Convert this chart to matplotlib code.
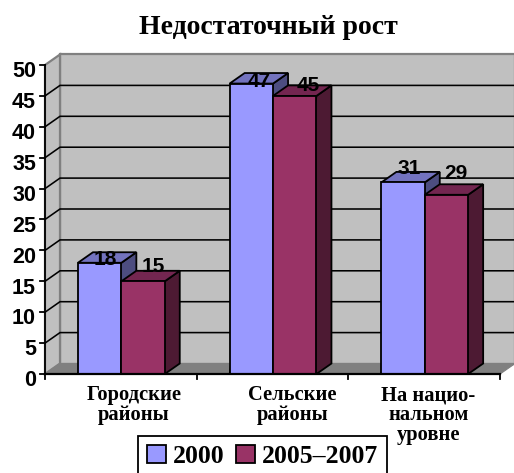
import matplotlib
matplotlib.use("Agg")
import matplotlib.pyplot as plt
from matplotlib.patches import Polygon, Patch
import numpy as np

title = "Недостаточный рост"
categories = ["Городские\nрайоны", "Сельские\nрайоны", "На нацио-\nнальном\nуровне"]
series_names = ["2000", "2005–2007"]
values_2000 = [18, 47, 31]
values_2005 = [15, 45, 29]
y_ticks = [0, 5, 10, 15, 20, 25, 30, 35, 40, 45, 50]

W, H = 514, 473
X0, CAT = 45.0, 151.7      # pixel of category 0, pixels per category
Y0, UNIT = 374.0, 6.18     # pixel of value 0, pixels per value
DX, DY = 15.0 / CAT, 10.5 / UNIT   # 3-D depth in data units
BAR = 43.4 / CAT

fig = plt.figure(figsize=(W / 100, H / 100), dpi=100)
ax = fig.add_axes([0, 0, 1, 1])
ax.set_xlim(-X0 / CAT, (W - X0) / CAT)
ax.set_ylim((Y0 - H) / UNIT, Y0 / UNIT)
ax.axis("off")
px = 1 / CAT
pu = 1 / UNIT
SANS = "Liberation Sans"
SERIF = "Liberation Serif"
ncat = len(categories)
YMAX = y_ticks[-1]

def poly(pts, fc, ec="black", lw=1.3, z=2):
    ax.add_patch(Polygon(pts, closed=True, facecolor=fc, edgecolor=ec, linewidth=lw, zorder=z, joinstyle="miter"))

# walls and floor
poly([(DX, DY), (ncat + DX, DY), (ncat + DX, YMAX + DY), (DX, YMAX + DY)], "#C0C0C0", "#808080", 1.6, 1)
poly([(0, 0), (DX, DY), (DX, YMAX + DY), (0, YMAX)], "#C0C0C0", "#808080", 1.6, 1)
poly([(0, 0), (ncat, 0), (ncat + DX, DY), (DX, DY)], "#808080", "#808080", 0.8, 1.2)

# gridlines
for t in y_ticks[1:-1]:
    ax.plot([0, DX, ncat + DX], [t, t + DY, t + DY], color="black", lw=1.15, zorder=1.5, solid_joinstyle="miter")

# bars
def bar3d(x, v, front, top, side, z):
    poly([(x, 0), (x + BAR, 0), (x + BAR + DX, DY), (x + BAR + DX, v + DY), (x + BAR, v)], side, z=z)
    poly([(x, v), (x + BAR, v), (x + BAR + DX, v + DY), (x + DX, v + DY)], top, z=z)
    poly([(x, 0), (x + BAR, 0), (x + BAR, v), (x, v)], front, z=z)

bar_shift = 0.5 * px
for i in range(ncat):
    c = i + 0.5 + bar_shift
    bar3d(c - BAR, values_2000[i], "#9999FF", "#7373BF", "#4D4D80", 3 + i)
    bar3d(c, values_2005[i], "#993366", "#732650", "#4D1A33", 3.5 + i)

# axes lines and ticks
ax.plot([0, 0], [0, YMAX], color="black", lw=1.3, zorder=8)
ax.plot([0, ncat], [0, 0], color="black", lw=1.6, zorder=8)
for t in y_ticks:
    ax.plot([-5 * px, 0], [t, t], color="black", lw=1.3, zorder=8)
    ax.text(-9 * px, t - 1.1, str(t), ha="right", va="center", family=SANS, fontweight="bold", fontsize=15.5, zorder=9)
for i in range(ncat + 1):
    ax.plot([i, i], [0, -5 * pu], color="black", lw=1.3, zorder=8)

# data labels (offsets from the bar front top centre, in pixels)
label_off = [[(6, 3), (11, 15)], [(8, 2), (14, 10)], [(7, 14), (10, 21)]]
for i in range(ncat):
    c = i + 0.5
    for j, vals in enumerate([values_2000, values_2005]):
        ox, oy = label_off[i][j]
        xc = c - BAR / 2 + j * BAR + ox * px
        ax.text(xc, vals[i] + oy * pu, str(vals[i]), ha="center", va="center",
                family=SANS, fontweight="bold", fontsize=15, zorder=10)

# category labels (horizontal offsets from the category centre, in pixels)
cat_off = [13, 20, 4]
for i, lab in enumerate(categories):
    ax.text(i + 0.5 + cat_off[i] * px, -(385 - Y0) * pu, lab, ha="center", va="top", family=SERIF,
            fontweight="bold", fontsize=14.8, linespacing=1.0, zorder=9)

ax.text((268 - X0) / CAT, (Y0 - 28) * pu, title, ha="center", va="center", family=SERIF,
        fontweight="bold", fontsize=20)

# legend
leg = ax.legend(handles=[Patch(facecolor="#9999FF", edgecolor="black", linewidth=1.3, label=series_names[0]),
                         Patch(facecolor="#993366", edgecolor="black", linewidth=1.3, label=series_names[1])],
                loc="lower left", bbox_to_anchor=(138 / W, -4 / H), bbox_transform=fig.transFigure,
                ncol=2, borderaxespad=0, frameon=True, fancybox=False, framealpha=1,
                edgecolor="black", handlelength=0.75, handleheight=0.75, handletextpad=0.25,
                columnspacing=0.45, borderpad=0.35,
                prop={"family": SERIF, "weight": "bold", "size": 18.5})
leg.set_zorder(12)
leg.get_frame().set_linewidth(1.3)

fig.savefig("out.png", dpi=100)
